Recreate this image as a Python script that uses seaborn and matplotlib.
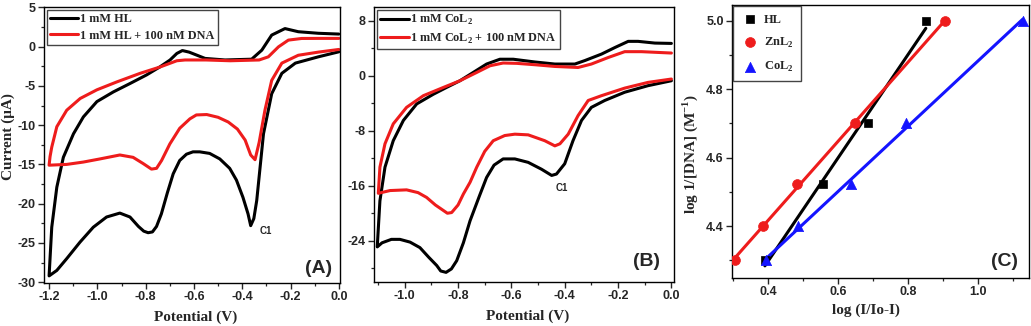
import numpy as np
import pandas as pd
import matplotlib
matplotlib.use("Agg")
import matplotlib.pyplot as plt
from matplotlib.ticker import MultipleLocator, FormatStrFormatter
import seaborn as sns

# ---------------- data ----------------
# Panel A: 1 mM HL (black), cathodic branch 0 -> -1.2 V, then anodic branch back
A_hl_lo_v = [0.0, -0.085, -0.18, -0.236, -0.278, -0.312, -0.34, -0.352, -0.365, -0.376, -0.397,
             -0.424, -0.452, -0.493, -0.535, -0.576, -0.604, -0.631, -0.659, -0.686, -0.71,
             -0.735, -0.755, -0.772, -0.79, -0.808, -0.83, -0.865, -0.907, -0.962, -1.017, -1.072,
             -1.127, -1.168, -1.20]
A_hl_lo_i = [-0.66, -1.3, -2.1, -3.4, -6.0, -11.1, -19.6, -21.9, -22.8, -21.3, -19.2,
             -17.0, -15.5, -14.3, -13.6, -13.4, -13.4, -13.7, -14.5, -16.2, -18.6,
             -21.3, -22.9, -23.6, -23.7, -23.5, -22.9, -21.7, -21.2, -21.7, -23.0, -24.9,
             -27.0, -28.5, -29.2]
A_hl_up_v = [-1.20, -1.189, -1.168, -1.141, -1.099, -1.058, -1.002, -0.934, -0.865, -0.796, -0.741,
             -0.699, -0.671, -0.648, -0.62, -0.554, -0.471, -0.361, -0.319, -0.278, -0.223, -0.168,
             -0.085, 0.0]
A_hl_up_i = [-29.2, -23.0, -17.9, -14.1, -11.1, -8.95, -7.0, -5.77, -4.7, -3.6, -2.58,
             -1.7, -0.87, -0.5, -0.7, -1.5, -1.7, -1.6, -0.45, 1.47, 2.3, 1.9,
             1.7, 1.6]
# Panel A: 1 mM HL + 100 nM DNA (red)
A_dna_lo_v = [0.0, -0.085, -0.168, -0.236, -0.278, -0.306, -0.33, -0.347, -0.365, -0.388, -0.42,
              -0.458, -0.50, -0.547, -0.59, -0.617, -0.659, -0.70, -0.734, -0.755, -0.776, -0.81,
              -0.852, -0.907, -0.989, -1.058, -1.127, -1.20]
A_dna_lo_i = [-0.36, -0.7, -1.1, -2.1, -4.3, -8.1, -12.2, -14.4, -13.8, -11.9, -10.5,
              -9.6, -9.0, -8.65, -8.7, -9.2, -10.4, -12.4, -14.5, -15.5, -15.6, -14.9,
              -14.1, -13.8, -14.3, -14.7, -15.0, -15.1]
A_dna_up_v = [-1.20, -1.196, -1.189, -1.168, -1.127, -1.071, -1.002, -0.92, -0.823, -0.741, -0.671,
              -0.637, -0.55, -0.45, -0.33, -0.292, -0.25, -0.209, -0.154, -0.08, 0.0]
A_dna_up_i = [-15.1, -14.0, -12.8, -10.2, -8.1, -6.6, -5.5, -4.5, -3.4, -2.6, -1.8,
              -1.7, -1.7, -1.8, -1.7, -1.3, -0.03, 0.83, 1.04, 1.05, 1.05]

# Panel B: 1 mM CoL2 (black)
B_co_lo_v = [0.0, -0.088, -0.175, -0.25, -0.30, -0.337, -0.369, -0.40, -0.431, -0.449, -0.487,
             -0.537, -0.587, -0.631, -0.665, -0.693, -0.72, -0.755, -0.78, -0.805, -0.825, -0.845,
             -0.865, -0.88, -0.91, -0.943, -0.98, -1.018, -1.05, -1.085, -1.103]
B_co_lo_i = [-0.73, -1.45, -2.4, -3.6, -4.6, -6.5, -9.45, -12.8, -14.3, -14.5, -13.6,
             -12.6, -12.1, -12.1, -13.0, -14.8, -17.5, -21.1, -24.3, -26.9, -28.1, -28.6,
             -28.4, -27.6, -26.4, -25.0, -24.2, -23.8, -23.8, -24.3, -24.9]
B_co_up_v = [-1.103, -1.093, -1.074, -1.043, -1.005, -0.955, -0.893, -0.843, -0.793, -0.743, -0.693,
             -0.643, -0.593, -0.512, -0.437, -0.362, -0.325, -0.262, -0.212, -0.162, -0.125,
             -0.062, 0.0]
B_co_up_i = [-24.9, -18.2, -13.3, -9.45, -6.5, -4.1, -2.7, -1.7, -0.73, 0.48, 1.7,
             2.4, 2.4, 2.0, 1.7, 1.7, 2.2, 3.15, 4.1, 5.0, 5.0,
             4.75, 4.7]
# Panel B: 1 mM CoL2 + 100 nM DNA (red)
B_dna_lo_v = [0.0, -0.088, -0.175, -0.262, -0.312, -0.35, -0.387, -0.418, -0.437, -0.475, -0.537,
              -0.587, -0.625, -0.668, -0.70, -0.730, -0.755, -0.78, -0.80, -0.824, -0.84, -0.855,
              -0.885, -0.918, -0.95, -0.993, -1.055, -1.099]
B_dna_lo_i = [-0.48, -0.97, -1.8, -2.9, -3.6, -5.8, -8.5, -9.9, -10.2, -9.45, -8.6,
              -8.5, -8.7, -9.45, -11.0, -13.3, -15.5, -17.2, -18.8, -19.9, -20.0, -19.6,
              -18.8, -17.7, -17.0, -16.6, -16.7, -17.1]
B_dna_up_v = [-1.099, -1.093, -1.074, -1.043, -0.993, -0.93, -0.855, -0.793, -0.73, -0.68, -0.631,
              -0.58, -0.512, -0.437, -0.35, -0.30, -0.237, -0.175, -0.112, 0.0]
B_dna_up_i = [-17.1, -13.3, -9.9, -7.0, -4.6, -2.9, -1.7, -0.73, 0.48, 1.45, 1.85,
              1.8, 1.6, 1.35, 1.2, 1.7, 2.65, 3.5, 3.5, 3.3]

# Panel C: binding plots
C_hl_x = [0.39, 0.555, 0.685, 0.85]
C_hl_y = [4.30, 4.523, 4.70, 5.00]
C_zn_x = [0.305, 0.384, 0.481, 0.648, 0.905]
C_zn_y = [4.30, 4.40, 4.523, 4.70, 5.00]
C_co_x = [0.393, 0.486, 0.635, 0.793, 1.127]
C_co_y = [4.30, 4.40, 4.523, 4.70, 5.00]

# ---------------- style ----------------
sns.set_theme(style="ticks")
plt.rcParams.update({
    "font.family": ["Liberation Sans", "DejaVu Sans"],
    "axes.unicode_minus": False,
    "axes.linewidth": 1.0,
    "xtick.direction": "out",
    "ytick.direction": "out",
    "xtick.major.size": 4, "ytick.major.size": 4,
    "xtick.minor.size": 2.5, "ytick.minor.size": 2.5,
    "xtick.major.width": 1.0, "ytick.major.width": 1.0,
    "xtick.minor.width": 0.9, "ytick.minor.width": 0.9,
    "xtick.major.pad": 2, "ytick.major.pad": 2,
})

BLACK = "#000000"
RED = "#ee1c1c"
BLUE = "#1414ff"
SERIF = ["Liberation Serif", "DejaVu Serif"]

fig = plt.figure(figsize=(10.31, 3.26), dpi=100)
axA = fig.add_axes([0.0427, 0.132, 0.2871, 0.8466])
axB = fig.add_axes([0.3628, 0.135, 0.2910, 0.8436])
axC = fig.add_axes([0.7100, 0.1472, 0.2881, 0.8374])


def cv(ax, vlo, ilo, vup, iup, color, label):
    df = pd.DataFrame({"V": list(vlo) + list(vup), "I": list(ilo) + list(iup)})
    sns.lineplot(data=df, x="V", y="I", sort=False, estimator=None, color=color,
                 lw=2.2, label=label, ax=ax, solid_joinstyle="round", solid_capstyle="round")


def style_ticks(ax):
    for lab in ax.get_xticklabels() + ax.get_yticklabels():
        lab.set_fontweight("bold")
        lab.set_fontsize(9)
    ax.tick_params(which="both", top=False, right=False)
    for s in ax.spines.values():
        s.set_visible(True)
        s.set_color("black")


def cv_legend(ax):
    leg = ax.legend(loc="upper left", bbox_to_anchor=(0.0, 1.0), borderaxespad=0.22,
                    frameon=True, fancybox=False, edgecolor="#444444", framealpha=1,
                    handlelength=2.3, handletextpad=0.1, borderpad=0.3, labelspacing=0.35,
                    prop={"family": SERIF, "weight": "bold", "size": 8.8})
    leg.get_frame().set_linewidth(1.0)


# ---- Panel A ----
cv(axA, A_hl_lo_v, A_hl_lo_i, A_hl_up_v, A_hl_up_i, BLACK, "1 mM HL")
cv(axA, A_dna_lo_v, A_dna_lo_i, A_dna_up_v, A_dna_up_i, RED, "1 mM HL + 100 nM DNA")
axA.set_xlim(-1.221, 0.005)
axA.set_ylim(-30.1, 5.05)
axA.xaxis.set_major_locator(MultipleLocator(0.2))
axA.xaxis.set_minor_locator(MultipleLocator(0.1))
axA.yaxis.set_major_locator(MultipleLocator(5))
axA.yaxis.set_minor_locator(MultipleLocator(2.5))
axA.xaxis.set_major_formatter(FormatStrFormatter("%.1f"))
axA.set_xlabel("Potential (V)", family=SERIF, weight="bold", size=11)
axA.set_ylabel("Current (\u03bcA)", family=SERIF, weight="bold", size=11)
axA.yaxis.set_label_coords(-0.099, 0.53)
axA.xaxis.set_label_coords(0.513, -0.1)
axA.text(-0.301, -23.5, "C1", fontsize=7, weight="bold", ha="center", va="center")
axA.text(0.975, 0.022, "(A)", transform=axA.transAxes, fontsize=14, weight="bold",
         ha="right", va="bottom")
cv_legend(axA)
style_ticks(axA)

# ---- Panel B ----
cv(axB, B_co_lo_v, B_co_lo_i, B_co_up_v, B_co_up_i, BLACK, "1 mM CoL$_\\mathregular{2}$")
cv(axB, B_dna_lo_v, B_dna_lo_i, B_dna_up_v, B_dna_up_i, RED,
   "1 mM CoL$_\\mathregular{2}$ + 100 nM DNA")
axB.set_xlim(-1.115, 0.01)
axB.set_ylim(-30, 10)
axB.xaxis.set_major_locator(MultipleLocator(0.2))
axB.xaxis.set_minor_locator(MultipleLocator(0.1))
axB.yaxis.set_major_locator(MultipleLocator(8))
axB.yaxis.set_minor_locator(MultipleLocator(4))
axB.xaxis.set_major_formatter(FormatStrFormatter("%.1f"))
axB.set_yticks([-24, -16, -8, 0, 8])
axB.set_xlabel("Potential (V)", family=SERIF, weight="bold", size=11)
axB.set_ylabel("")
axB.xaxis.set_label_coords(0.513, -0.1)
axB.text(-0.412, -16.3, "C1", fontsize=7, weight="bold", ha="center", va="center")
axB.text(0.953, 0.044, "(B)", transform=axB.transAxes, fontsize=14, weight="bold",
         ha="right", va="bottom")
cv_legend(axB)
style_ticks(axB)

# ---- Panel C ----
series = [
    (C_hl_x, C_hl_y, BLACK, "s", "HL", 40),
    (C_zn_x, C_zn_y, RED, "o", "ZnL$_\\mathregular{2}$", 50),
    (C_co_x, C_co_y, BLUE, "^", "CoL$_\\mathregular{2}$", 55),
]
for x, y, c, m, lab, s in series:
    sns.regplot(x=np.array(x), y=np.array(y), ci=None, scatter=False, color=c,
                line_kws={"lw": 2.2}, ax=axC)
for x, y, c, m, lab, s in series:
    sns.scatterplot(x=x, y=y, color=c, marker=m, s=s, edgecolor=c, linewidth=0.5,
                    label=lab, ax=axC, zorder=4)
axC.set_xlim(0.296, 1.145)
axC.set_ylim(4.248, 5.046)
axC.xaxis.set_major_locator(MultipleLocator(0.2))
axC.xaxis.set_minor_locator(MultipleLocator(0.1))
axC.yaxis.set_major_locator(MultipleLocator(0.2))
axC.yaxis.set_minor_locator(MultipleLocator(0.1))
axC.xaxis.set_major_formatter(FormatStrFormatter("%.1f"))
axC.yaxis.set_major_formatter(FormatStrFormatter("%.1f"))
axC.set_xlabel("log (I/Io-I)", family=SERIF, weight="bold", size=11)
axC.set_ylabel("log 1/[DNA] (M$^\\mathregular{-1}$)", family=SERIF, weight="bold", size=11)
axC.yaxis.set_label_coords(-0.108, 0.454)
axC.xaxis.set_label_coords(0.45, -0.095)
axC.text(0.964, 0.029, "(C)", transform=axC.transAxes, fontsize=14, weight="bold",
         ha="right", va="bottom")
legC = axC.legend(loc="upper left", bbox_to_anchor=(0.0, 1.0), borderaxespad=0.1,
                  frameon=True, fancybox=False, edgecolor="#444444", framealpha=1,
                  handlelength=1.4, handletextpad=0.45, borderpad=0.6, labelspacing=0.8,
                  markerscale=1.0,
                  prop={"family": SERIF, "weight": "bold", "size": 9})
legC.get_frame().set_linewidth(1.0)
style_ticks(axC)

fig.savefig("out.png", dpi=100)
